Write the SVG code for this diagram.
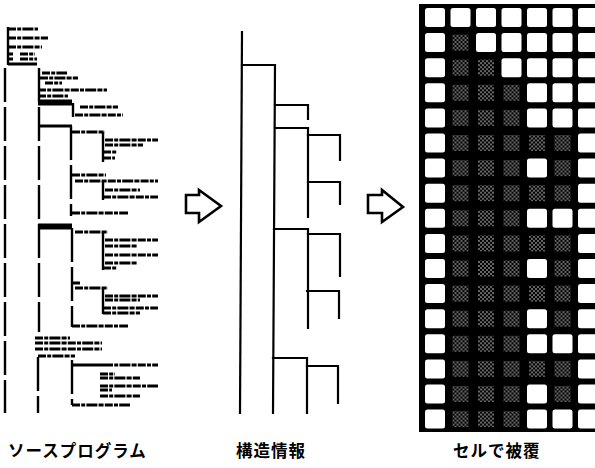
<svg xmlns="http://www.w3.org/2000/svg" xmlns:xlink="http://www.w3.org/1999/xlink" width="595" height="468" viewBox="0 0 595 468">
<style>
.t{stroke:#000;stroke-width:3;fill:none;stroke-dasharray:8 1.2 4 1.2 11 1.2 5 1.2}
.b{stroke:#000;stroke-width:3;fill:none}
.v{stroke:#000;stroke-width:2.4;fill:none;stroke-dasharray:34 5}
.vs{stroke:#000;stroke-width:2.4;fill:none}
.st{stroke:#000;stroke-width:2.2;fill:none;stroke-linecap:square}
.ar{stroke:#000;stroke-width:2.6;fill:#fff;stroke-linejoin:miter}
.lbl{font-family:"Noto Sans CJK JP","Noto Sans",sans-serif;font-size:16.5px;font-weight:bold;letter-spacing:1px;fill:#000}
</style>
<defs>
<pattern id="dots" patternUnits="userSpaceOnUse" width="4" height="4">
<rect width="4" height="4" fill="#000"/>
<circle cx="1" cy="1" r="0.75" fill="#fff"/>
<circle cx="3" cy="3" r="0.75" fill="#fff"/>
</pattern>
<rect id="w" width="20" height="19" rx="2.5" fill="#fff"/>
<rect id="s" x="2" y="1.5" width="16" height="16" fill="url(#dots)"/>
</defs>
<rect width="595" height="468" fill="#fff"/>

<g id="source-program">
<path class="vs" d="M8,27 V65"/>
<path class="t" d="M8,29 H38 M8,38 H48 M8,47 H42 M8,54 H13 M20,54 H35 M8,59 H13 M20,59 H37"/>
<path class="b" d="M8,64 H37"/>
<path class="v" d="M5,68 V413"/>
<path class="v" d="M39,68 V332 M38,357 V413"/>
<path class="t" d="M42,73 H67 M40,78 H78 M45,83 H62 M38,90 H107 M38,96 H68"/>
<path class="b" d="M38,101 H72 M38,104 H72"/>
<path class="vs" d="M73,103 V117"/>
<path class="t" d="M80,107 H118 M75,115 H123"/>
<path class="b" d="M38,126 H72"/>
<path class="v" d="M71,126 V216"/>
<path class="t" d="M72,132 H105"/>
<path class="vs" d="M103,132 V162"/>
<path class="t" d="M105,140 H158 M105,145 H143 M103,152 H117 M103,158 H115"/>
<path class="t" d="M72,175 H106 M75,181 H158"/>
<path class="vs" d="M103,181 V200"/>
<path class="t" d="M105,190 H140 M103,197 H158"/>
<path class="t" d="M72,213 H128"/>
<path class="b" d="M38,225 H72 M38,228 H72"/>
<path class="v" d="M72,228 V327"/>
<path class="t" d="M75,232 H108"/>
<path class="vs" d="M103,232 V270"/>
<path class="t" d="M105,240 H158 M105,246 H137 M105,255 H158 M105,263 H137 M103,268 H117"/>
<path class="t" d="M72,283 H80 M75,288 H108"/>
<path class="vs" d="M103,288 V314"/>
<path class="t" d="M105,296 H158 M105,300 H140 M103,308 H158 M103,313 H140"/>
<path class="t" d="M72,326 H128"/>
<path class="t" d="M35,338 H70 M35,343 H102 M35,349 H102 M38,356 H75"/>
<path class="v" d="M72,360 V405"/>
<path class="b" d="M72,365 H105"/>
<path class="t" d="M105,365 H158 M100,374 H115 M100,378 H140 M100,386 H158 M100,390 H112 M100,396 H140 M72,405 H130"/>
</g>

<g id="arrow-1"><path class="ar" d="M186,195 H199 V190 L221,206 L199,222 V213 H186 Z"/></g>
<g id="arrow-2"><path class="ar" d="M368,195 H382 V190 L403,207 L382,222 V213 H368 Z"/></g>

<g id="structure">
<path class="st" d="M242,32 L240,413"/>
<path class="st" d="M242,65 H275 L273,413"/>
<path class="st" d="M275,105 H308 V119"/>
<path class="st" d="M275,128 H308 V217"/>
<path class="st" d="M308,135 H340 V160"/>
<path class="st" d="M308,182 H340 V204"/>
<path class="st" d="M274,229 H308 V328"/>
<path class="st" d="M308,234 H340 V276"/>
<path class="st" d="M307,291 H339 V318"/>
<path class="st" d="M273,358 H307 V413"/>
<path class="st" d="M307,366 H338 V403"/>
</g>

<g id="cell-grid">
<rect x="419" y="4" width="180" height="428" fill="#000"/>
<use href="#w" x="425" y="8"/><use href="#w" x="450.5" y="8"/><use href="#w" x="476" y="8"/><use href="#w" x="501.5" y="8"/><use href="#w" x="527" y="8"/><use href="#w" x="552.5" y="8"/><use href="#w" x="578" y="8"/>
<use href="#w" x="425" y="33.1"/><use href="#s" x="450.5" y="33.1"/><use href="#w" x="476" y="33.1"/><use href="#w" x="501.5" y="33.1"/><use href="#w" x="527" y="33.1"/><use href="#w" x="552.5" y="33.1"/><use href="#w" x="578" y="33.1"/>
<use href="#w" x="425" y="58.2"/><use href="#s" x="450.5" y="58.2"/><use href="#s" x="476" y="58.2"/><use href="#w" x="501.5" y="58.2"/><use href="#w" x="527" y="58.2"/><use href="#w" x="552.5" y="58.2"/><use href="#w" x="578" y="58.2"/>
<use href="#w" x="425" y="83.3"/><use href="#s" x="450.5" y="83.3"/><use href="#s" x="476" y="83.3"/><use href="#s" x="501.5" y="83.3"/><use href="#w" x="527" y="83.3"/><use href="#w" x="552.5" y="83.3"/><use href="#w" x="578" y="83.3"/>
<use href="#w" x="425" y="108.4"/><use href="#s" x="450.5" y="108.4"/><use href="#s" x="476" y="108.4"/><use href="#s" x="501.5" y="108.4"/><use href="#w" x="527" y="108.4"/><use href="#w" x="552.5" y="108.4"/><use href="#w" x="578" y="108.4"/>
<use href="#w" x="425" y="133.5"/><use href="#s" x="450.5" y="133.5"/><use href="#s" x="476" y="133.5"/><use href="#s" x="501.5" y="133.5"/><use href="#s" x="527" y="133.5"/><use href="#s" x="552.5" y="133.5"/><use href="#w" x="578" y="133.5"/>
<use href="#w" x="425" y="158.6"/><use href="#s" x="450.5" y="158.6"/><use href="#s" x="476" y="158.6"/><use href="#s" x="501.5" y="158.6"/><use href="#w" x="527" y="158.6"/><use href="#s" x="552.5" y="158.6"/><use href="#w" x="578" y="158.6"/>
<use href="#w" x="425" y="183.7"/><use href="#s" x="450.5" y="183.7"/><use href="#s" x="476" y="183.7"/><use href="#s" x="501.5" y="183.7"/><use href="#s" x="527" y="183.7"/><use href="#s" x="552.5" y="183.7"/><use href="#w" x="578" y="183.7"/>
<use href="#w" x="425" y="208.8"/><use href="#s" x="450.5" y="208.8"/><use href="#s" x="476" y="208.8"/><use href="#s" x="501.5" y="208.8"/><use href="#w" x="527" y="208.8"/><use href="#w" x="552.5" y="208.8"/><use href="#w" x="578" y="208.8"/>
<use href="#w" x="425" y="233.9"/><use href="#s" x="450.5" y="233.9"/><use href="#s" x="476" y="233.9"/><use href="#s" x="501.5" y="233.9"/><use href="#s" x="527" y="233.9"/><use href="#s" x="552.5" y="233.9"/><use href="#w" x="578" y="233.9"/>
<use href="#w" x="425" y="259"/><use href="#s" x="450.5" y="259"/><use href="#s" x="476" y="259"/><use href="#s" x="501.5" y="259"/><use href="#w" x="527" y="259"/><use href="#s" x="552.5" y="259"/><use href="#w" x="578" y="259"/>
<use href="#w" x="425" y="284.1"/><use href="#s" x="450.5" y="284.1"/><use href="#s" x="476" y="284.1"/><use href="#s" x="501.5" y="284.1"/><use href="#s" x="527" y="284.1"/><use href="#s" x="552.5" y="284.1"/><use href="#w" x="578" y="284.1"/>
<use href="#w" x="425" y="309.2"/><use href="#s" x="450.5" y="309.2"/><use href="#s" x="476" y="309.2"/><use href="#s" x="501.5" y="309.2"/><use href="#w" x="527" y="309.2"/><use href="#s" x="552.5" y="309.2"/><use href="#w" x="578" y="309.2"/>
<use href="#w" x="425" y="334.3"/><use href="#s" x="450.5" y="334.3"/><use href="#s" x="476" y="334.3"/><use href="#s" x="501.5" y="334.3"/><use href="#w" x="527" y="334.3"/><use href="#w" x="552.5" y="334.3"/><use href="#w" x="578" y="334.3"/>
<use href="#w" x="425" y="359.4"/><use href="#s" x="450.5" y="359.4"/><use href="#s" x="476" y="359.4"/><use href="#s" x="501.5" y="359.4"/><use href="#s" x="527" y="359.4"/><use href="#s" x="552.5" y="359.4"/><use href="#w" x="578" y="359.4"/>
<use href="#w" x="425" y="384.5"/><use href="#s" x="450.5" y="384.5"/><use href="#s" x="476" y="384.5"/><use href="#s" x="501.5" y="384.5"/><use href="#w" x="527" y="384.5"/><use href="#s" x="552.5" y="384.5"/><use href="#w" x="578" y="384.5"/>
<use href="#w" x="425" y="409.6"/><use href="#s" x="450.5" y="409.6"/><use href="#s" x="476" y="409.6"/><use href="#s" x="501.5" y="409.6"/><use href="#w" x="527" y="409.6"/><use href="#w" x="552.5" y="409.6"/><use href="#w" x="578" y="409.6"/>
</g>

<g id="labels">
<text class="lbl" x="8" y="457">ソースプログラム</text>
<text class="lbl" x="236" y="457">構造情報</text>
<text class="lbl" x="453" y="457">セルで被覆</text>
</g>
</svg>
